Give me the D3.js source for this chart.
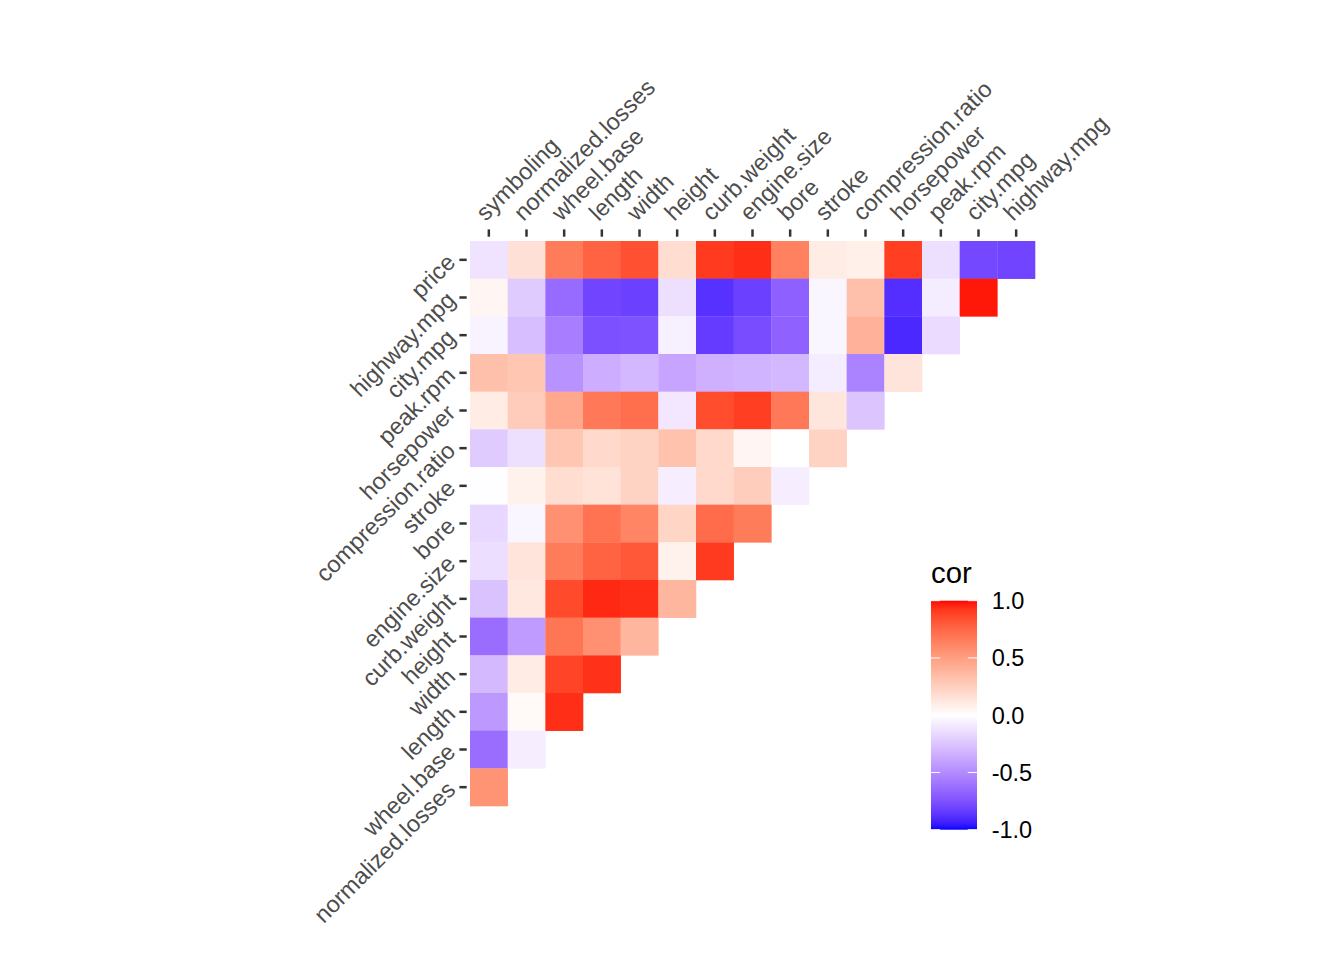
<!DOCTYPE html>
<html>
<head>
<meta charset="utf-8">
<script src="https://cdnjs.cloudflare.com/ajax/libs/d3/7.8.5/d3.min.js"></script>
<style>
  body { margin: 0; background: #fff; }
  svg { display: block; font-family: "Liberation Sans", Arial, Helvetica, sans-serif; }
</style>
</head>
<body>
<div class="bg"></div>
<script>
// columns (left to right) and rows (top to bottom)
const xVars = ["symboling", "normalized.losses", "wheel.base", "length", "width", "height",
  "curb.weight", "engine.size", "bore", "stroke", "compression.ratio", "horsepower",
  "peak.rpm", "city.mpg", "highway.mpg"];
const yVars = ["price", "highway.mpg", "city.mpg", "peak.rpm", "horsepower", "compression.ratio",
  "stroke", "bore", "engine.size", "curb.weight", "height", "width", "length",
  "wheel.base", "normalized.losses"];

// lower triangle, one row per y variable, values in xVars order
const corPrice      = [-0.12, 0.16, 0.66, 0.77, 0.84, 0.18, 0.91, 0.94, 0.64, 0.10, 0.08, 0.90, -0.13, -0.79, -0.80];
const corHighwayMpg = [0.05, -0.22, -0.64, -0.80, -0.82, -0.13, -0.88, -0.82, -0.69, -0.04, 0.33, -0.89, -0.08, 0.98];
const corCityMpg    = [-0.05, -0.28, -0.56, -0.76, -0.75, -0.06, -0.84, -0.77, -0.68, -0.04, 0.40, -0.91, -0.15];
const corPeakRpm    = [0.33, 0.30, -0.47, -0.35, -0.31, -0.39, -0.34, -0.32, -0.31, -0.08, -0.54, 0.14];
const corHorsepower = [0.10, 0.27, 0.45, 0.68, 0.72, -0.10, 0.85, 0.90, 0.68, 0.13, -0.25];
const corCompRatio  = [-0.22, -0.13, 0.30, 0.20, 0.23, 0.32, 0.20, 0.05, 0.00, 0.23];
const corStroke     = [-0.01, 0.07, 0.18, 0.15, 0.23, -0.07, 0.20, 0.26, -0.07];
const corBore       = [-0.17, -0.04, 0.57, 0.70, 0.62, 0.22, 0.73, 0.66];
const corEngineSize = [-0.14, 0.14, 0.66, 0.77, 0.81, 0.07, 0.91];
const corCurbWeight = [-0.26, 0.12, 0.86, 0.95, 0.94, 0.38];
const corHeight     = [-0.63, -0.43, 0.69, 0.57, 0.38];
const corWidth      = [-0.30, 0.10, 0.88, 0.93];
const corLength     = [-0.44, 0.03, 0.94];
const corWheelBase  = [-0.63, -0.07];
const corNormLosses = [0.55];

const corRows = [corPrice, corHighwayMpg, corCityMpg, corPeakRpm, corHorsepower, corCompRatio,
  corStroke, corBore, corEngineSize, corCurbWeight, corHeight, corWidth, corLength,
  corWheelBase, corNormLosses];

const legendTicks = [1.0, 0.5, 0.0, -0.5, -1.0];

const W = 1344, H = 960;

const svg = d3.select(".bg").append("svg")
  .attr("width", W)
  .attr("height", H);

svg.append("rect").attr("width", W).attr("height", H).attr("fill", "#fff");

const xScale = d3.scaleBand().domain(xVars).range([470, 1035]).padding(0);
const yScale = d3.scaleBand().domain(yVars).range([241, 806]).padding(0);

// CIELAB (D65) interpolation, the way ggplot's gradient does it
function toLin(c) { c /= 255; return c <= 0.04045 ? c / 12.92 : Math.pow((c + 0.055) / 1.055, 2.4); }
function toSrgb(c) {
  c = c <= 0.0031308 ? 12.92 * c : 1.055 * Math.pow(c, 1 / 2.4) - 0.055;
  return Math.max(0, Math.min(255, Math.round(c * 255)));
}
function labF(t) { return t > 0.008856 ? Math.cbrt(t) : 7.787 * t + 16 / 116; }
function labFi(t) { return t > 0.206893 ? t * t * t : (t - 16 / 116) / 7.787; }
function rgbToLab(col) {
  const c = d3.rgb(col);
  const r = toLin(c.r), g = toLin(c.g), b = toLin(c.b);
  const x = (0.4124564 * r + 0.3575761 * g + 0.1804375 * b) / 0.95047;
  const y = (0.2126729 * r + 0.7151522 * g + 0.0721750 * b);
  const z = (0.0193339 * r + 0.1191920 * g + 0.9503041 * b) / 1.08883;
  const fx = labF(x), fy = labF(y), fz = labF(z);
  return [116 * fy - 16, 500 * (fx - fy), 200 * (fy - fz)];
}
function labToRgb(lab) {
  const fy = (lab[0] + 16) / 116, fx = fy + lab[1] / 500, fz = fy - lab[2] / 200;
  const x = labFi(fx) * 0.95047, y = labFi(fy), z = labFi(fz) * 1.08883;
  const r = 3.2404542 * x - 1.5371385 * y - 0.4985314 * z;
  const g = -0.9692660 * x + 1.8760108 * y + 0.0415560 * z;
  const b = 0.0556434 * x - 0.2040259 * y + 1.0572252 * z;
  return d3.rgb(toSrgb(r), toSrgb(g), toSrgb(b)).formatHex();
}
function interpolateLab65(a, b) {
  const la = rgbToLab(a), lb = rgbToLab(b);
  return t => labToRgb([0, 1, 2].map(k => la[k] + (lb[k] - la[k]) * t));
}

const color = d3.scaleLinear()
  .domain([-1, 0, 1])
  .range(["blue", "white", "red"])
  .interpolate(interpolateLab65)
  .clamp(true);

// flatten rows into cells
const cells = [];
corRows.forEach((row, i) => {
  row.forEach((v, j) => {
    cells.push({ row: yVars[i], col: xVars[j], value: v });
  });
});

svg.append("g")
  .selectAll("rect")
  .data(cells)
  .enter().append("rect")
  .attr("x", d => xScale(d.col))
  .attr("y", d => yScale(d.row))
  .attr("width", xScale.bandwidth() + 0.3)
  .attr("height", yScale.bandwidth() + 0.3)
  .attr("fill", d => color(d.value));

// top axis
const xAxis = d3.axisTop(xScale).tickSize(7.3).tickSizeOuter(0);
const gx = svg.append("g")
  .attr("transform", "translate(0,236.7)")
  .call(xAxis);
gx.select(".domain").remove();
gx.selectAll(".tick line").attr("stroke", "#333333").attr("stroke-width", 2.5);
gx.selectAll(".tick text")
  .attr("x", 0).attr("y", 0).attr("dy", null)
  .attr("text-anchor", "start")
  .attr("transform", "translate(-3,-14.7) rotate(-45)")
  .attr("fill", "#4D4D4D")
  .style("font-size", "23.5px")
  .style("font-family", "'Liberation Sans', Arial, sans-serif");

// left axis
const yAxis = d3.axisLeft(yScale).tickSize(7.3).tickSizeOuter(0);
const gy = svg.append("g")
  .attr("transform", "translate(466.7,0)")
  .call(yAxis);
gy.select(".domain").remove();
gy.selectAll(".tick line").attr("stroke", "#333333").attr("stroke-width", 2.5);
gy.selectAll(".tick text")
  .attr("x", 0).attr("y", 0).attr("dy", null)
  .attr("text-anchor", "end")
  .attr("transform", "translate(-10,4) rotate(-45)")
  .attr("fill", "#4D4D4D")
  .style("font-size", "23.5px")
  .style("font-family", "'Liberation Sans', Arial, sans-serif");

// colour bar legend
const barX = 931, barW = 46;
const legScale = d3.scaleLinear().domain([1, -1]).range([600.7, 829.7]);

const defs = svg.append("defs");
const grad = defs.append("linearGradient")
  .attr("id", "corGrad")
  .attr("x1", 0).attr("y1", 0).attr("x2", 0).attr("y2", 1);
d3.range(0, 81).forEach(k => {
  const v = 1 - k / 40;
  grad.append("stop")
    .attr("offset", (k / 80 * 100) + "%")
    .attr("stop-color", color(v));
});

svg.append("rect")
  .attr("x", barX)
  .attr("y", legScale(1))
  .attr("width", barW)
  .attr("height", legScale(-1) - legScale(1))
  .attr("fill", "url(#corGrad)");

const legTick = svg.append("g").selectAll("g")
  .data(legendTicks)
  .enter().append("g");

legTick.append("line")
  .attr("x1", barX).attr("x2", barX + 9.2)
  .attr("y1", d => legScale(d)).attr("y2", d => legScale(d))
  .attr("stroke", "#fff").attr("stroke-width", 1);
legTick.append("line")
  .attr("x1", barX + barW - 9.2).attr("x2", barX + barW)
  .attr("y1", d => legScale(d)).attr("y2", d => legScale(d))
  .attr("stroke", "#fff").attr("stroke-width", 1);

legTick.append("text")
  .attr("x", 991.7)
  .attr("y", d => legScale(d))
  .attr("dy", "0.36em")
  .attr("fill", "#000")
  .style("font-size", "23.5px")
  .text(d => d.toFixed(1));

svg.append("text")
  .attr("x", barX)
  .attr("y", 583)
  .attr("fill", "#000")
  .style("font-size", "29.3px")
  .text("cor");
</script>
</body>
</html>
